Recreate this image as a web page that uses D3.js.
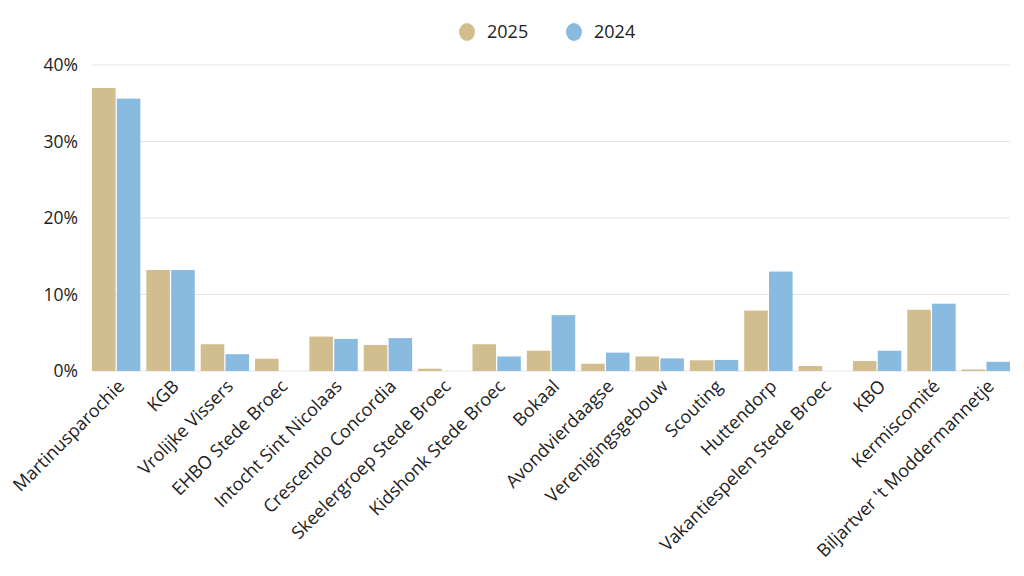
<!DOCTYPE html>
<html>
<head>
<meta charset="utf-8">
<script src="https://cdn.jsdelivr.net/npm/d3@7"></script>
<style>
  body { margin: 0; background: #fff; }
  svg { font-family: "Open Sans", "Noto Sans", sans-serif; }
</style>
</head>
<body>
<svg id="chart" width="1024" height="576"></svg>
<script>
const categories = ["Martinusparochie", "KGB", "Vrolijke Vissers", "EHBO Stede Broec", "Intocht Sint Nicolaas",
    "Crescendo Concordia", "Skeelergroep Stede Broec", "Kidshonk Stede Broec", "Bokaal", "Avondvierdaagse",
    "Verenigingsgebouw", "Scouting", "Huttendorp", "Vakantiespelen Stede Broec", "KBO", "Kermiscomité",
    "Biljartver 't Moddermannetje"];
const series = ["2025", "2024"];
const values2025 = [37.0, 13.2, 3.5, 1.6, 4.5, 3.4, 0.3, 3.5, 2.65, 0.95, 1.9, 1.4, 7.9, 0.65, 1.3, 8.0, 0.2];
const values2024 = [35.6, 13.2, 2.2, 0, 4.2, 4.3, 0, 1.9, 7.3, 2.4, 1.65, 1.45, 13.0, 0, 2.65, 8.8, 1.2];
const yTicks = [0, 10, 20, 30, 40];

const colors = { "2025": "#d2bd8f", "2024": "#89bbe1" };

const svg = d3.select("#chart");
const width = 1024;
const height = 576;
const margin = { top: 65, right: 14, bottom: 205, left: 92 };

const data = categories.map((c, i) => ({ cat: c, "2025": values2025[i], "2024": values2024[i] }));

// scales
const x = d3.scaleBand()
    .domain(categories)
    .range([margin.left, width - margin.right])
    .paddingInner(0.11)
    .paddingOuter(0);

const xs = d3.scaleBand()
    .domain(series)
    .range([0, x.bandwidth()])
    .paddingInner(0.05);

const y = d3.scaleLinear()
    .domain([0, 40])
    .range([height - margin.bottom, margin.top]);

// grid lines
svg.append("g")
    .selectAll("line")
    .data(yTicks)
    .join("line")
    .attr("x1", margin.left)
    .attr("x2", width - margin.right)
    .attr("y1", d => y(d))
    .attr("y2", d => y(d))
    .attr("stroke", "#e4e4e4")
    .attr("stroke-width", 1);

// y axis labels
svg.append("g")
    .selectAll("text")
    .data(yTicks)
    .join("text")
    .attr("x", margin.left - 14)
    .attr("y", d => y(d))
    .attr("dy", "0.35em")
    .attr("text-anchor", "end")
    .style("font-size", "17.5px")
    .style("fill", "#222")
    .text(d => d + "%");

// bars
svg.append("g")
    .selectAll("g")
    .data(data)
    .join("g")
    .attr("transform", d => `translate(${x(d.cat)},0)`)
    .selectAll("rect")
    .data(d => series.map(s => ({ key: s, value: d[s] })))
    .join("rect")
    .attr("x", d => xs(d.key))
    .attr("y", d => y(d.value))
    .attr("width", xs.bandwidth())
    .attr("height", d => y(0) - y(d.value))
    .attr("fill", d => colors[d.key]);

// x axis labels
svg.append("g")
    .selectAll("text")
    .data(categories)
    .join("text")
    .attr("transform", d => `translate(${x(d) + x.bandwidth() / 2 + 5},${y(0) + 12}) rotate(-45)`)
    .attr("text-anchor", "end")
    .attr("dy", "0.35em")
    .style("font-size", "18px")
    .style("fill", "#222")
    .text(d => d);

// legend
const legend = svg.append("g")
    .selectAll("g")
    .data(series)
    .join("g")
    .attr("transform", (d, i) => `translate(${467 + i * 107},32)`);

legend.append("ellipse")
    .attr("rx", 8)
    .attr("ry", 9)
    .attr("fill", d => colors[d]);

legend.append("text")
    .attr("x", 20)
    .attr("dy", "0.35em")
    .style("font-size", "18px")
    .style("fill", "#222")
    .text(d => d);
</script>
</body>
</html>
